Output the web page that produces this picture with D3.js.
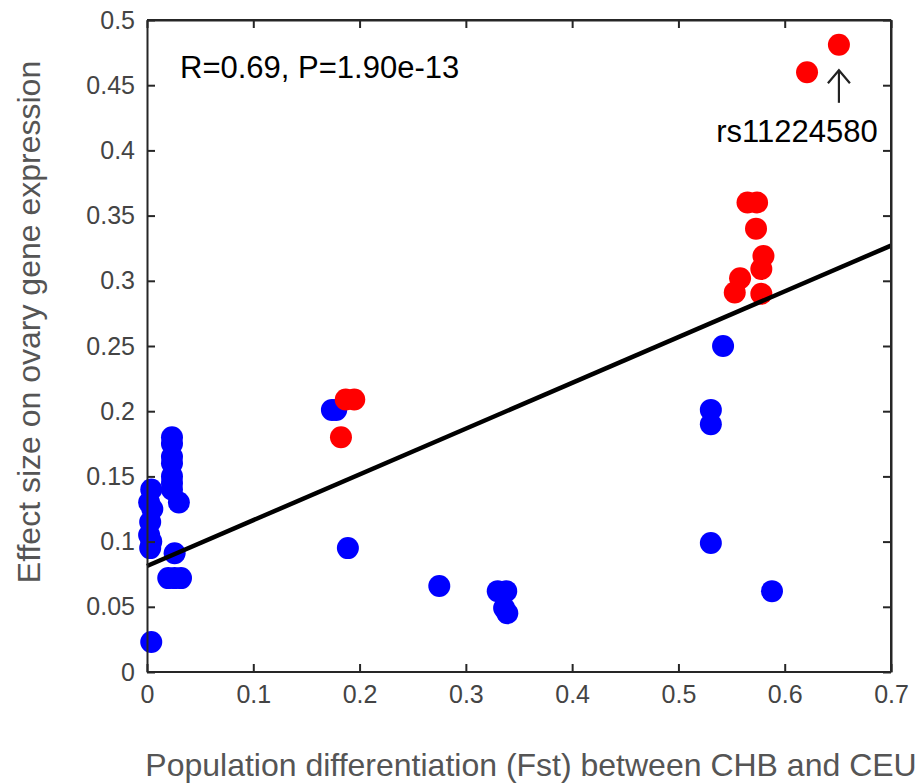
<!DOCTYPE html>
<html><head><meta charset="utf-8">
<script src="https://cdn.jsdelivr.net/npm/d3@7"></script>
<style>body{margin:0;background:#fff;} svg{display:block;}</style>
</head><body>
<svg id="chart" width="917" height="783"></svg>
<script>
const blueX = [0.004,0.002,0.005,0.003,0.002,0.004,0.003,0.004,
  0.0235,0.0235,0.0235,0.0235,0.0235,0.0235,0.0235,0.030,0.026,0.020,0.026,0.032,
  0.174,0.178,0.189,0.275,0.330,0.338,0.336,0.339,0.542,0.5305,0.5305,0.5305,0.588];
const blueY = [0.14,0.13,0.125,0.115,0.105,0.10,0.095,0.023,
  0.18,0.175,0.165,0.16,0.15,0.145,0.14,0.13,0.091,0.072,0.072,0.072,
  0.201,0.201,0.095,0.066,0.062,0.062,0.049,0.045,0.25,0.201,0.19,0.099,0.062];
const redX = [0.1825,0.187,0.195,0.565,0.574,0.573,0.580,0.578,0.558,0.553,0.578,0.621,0.651];
const redY = [0.18,0.209,0.209,0.36,0.36,0.34,0.319,0.309,0.302,0.291,0.29,0.46,0.481];
const fitX = [0, 0.7];
const fitY = [0.0813, 0.327];
const xTicks = [0,0.1,0.2,0.3,0.4,0.5,0.6,0.7];
const yTicks = [0,0.05,0.1,0.15,0.2,0.25,0.3,0.35,0.4,0.45,0.5];
const statText = "R=0.69, P=1.90e-13";
const snpLabel = "rs11224580";

const svg = d3.select("#chart");
const L=147, R=891, T=20, B=672;
const x = d3.scaleLinear().domain([0,0.7]).range([L,R]);
const y = d3.scaleLinear().domain([0,0.5]).range([B,T]);
const font = "'Liberation Sans', Helvetica, Arial, sans-serif";
const axisCol = "#262626", lblCol="#444";

// points
const gp = svg.append("g");
gp.selectAll("circle.b").data(blueX.map((v,i)=>[v,blueY[i]])).enter().append("circle")
  .attr("cx",d=>x(d[0])).attr("cy",d=>y(d[1])).attr("r",11).attr("fill","#0000ff");
gp.selectAll("circle.r").data(redX.map((v,i)=>[v,redY[i]])).enter().append("circle")
  .attr("cx",d=>x(d[0])).attr("cy",d=>y(d[1])).attr("r",11).attr("fill","#ff0000");

// fit line
svg.append("line").attr("x1",x(fitX[0])).attr("y1",y(fitY[0])).attr("x2",x(fitX[1])).attr("y2",y(fitY[1]))
  .attr("stroke","#000").attr("stroke-width",4.5);

// axes
const ax = d3.axisBottom(x).tickValues(xTicks).tickFormat(d=>d3.format("")(d)).tickSizeInner(-8).tickSizeOuter(0).tickPadding(13);
const gx = svg.append("g").attr("transform",`translate(0,${B})`).call(ax);
const ay = d3.axisLeft(y).tickValues(yTicks).tickFormat(d=>d3.format("")(d)).tickSizeInner(-8).tickSizeOuter(0).tickPadding(12);
const gy = svg.append("g").attr("transform",`translate(${L},0)`).call(ay);
const axTop = d3.axisTop(x).tickValues(xTicks).tickFormat("").tickSizeInner(-8).tickSizeOuter(0);
const gt = svg.append("g").attr("transform",`translate(0,${T})`).call(axTop);
const ayR = d3.axisRight(y).tickValues(yTicks).tickFormat("").tickSizeInner(-8).tickSizeOuter(0);
const gr = svg.append("g").attr("transform",`translate(${R},0)`).call(ayR);
[gx,gy,gt,gr].forEach(g=>{
  g.select(".domain").attr("stroke",axisCol).attr("stroke-width",2);
  g.selectAll(".tick line").attr("stroke",axisCol).attr("stroke-width",2);
  g.selectAll(".tick text").attr("fill",lblCol).style("font-family",font).style("font-size","25px");
});
gx.select(".domain").attr("d",`M${L},0H${R}`);
svg.append("line").attr("x1",L).attr("x2",R).attr("y1",T).attr("y2",T).attr("stroke",axisCol).attr("stroke-width",2);
svg.append("line").attr("x1",R).attr("x2",R).attr("y1",T).attr("y2",B).attr("stroke",axisCol).attr("stroke-width",2);

// labels
svg.append("text").attr("x",531).attr("y",776).attr("text-anchor","middle")
  .style("font-family",font).style("font-size","32px").attr("fill","#555")
  .text("Population differentiation (Fst) between CHB and CEU");
svg.append("text").attr("transform",`translate(40,322) rotate(-90)`).attr("text-anchor","middle")
  .style("font-family",font).style("font-size","32px").attr("fill","#555")
  .text("Effect size on ovary gene expression");

svg.append("text").attr("x",180).attr("y",78).style("font-family",font).style("font-size","31px").attr("fill","#000").text(statText);

// annotation arrow
const ax0 = x(redX[12]);
svg.append("line").attr("x1",ax0).attr("x2",ax0).attr("y1",y(0.4365)).attr("y2",y(0.4615)).attr("stroke","#222").attr("stroke-width",2.2);
svg.append("path").attr("d",`M${ax0-11},${y(0.4515)} L${ax0},${y(0.4615)} L${ax0+11},${y(0.4515)}`)
  .attr("fill","none").attr("stroke","#222").attr("stroke-width",2.2);
svg.append("text").attr("x",797).attr("y",142).attr("text-anchor","middle")
  .style("font-family",font).style("font-size","31px").attr("fill","#000").text(snpLabel);
</script>
</body></html>
